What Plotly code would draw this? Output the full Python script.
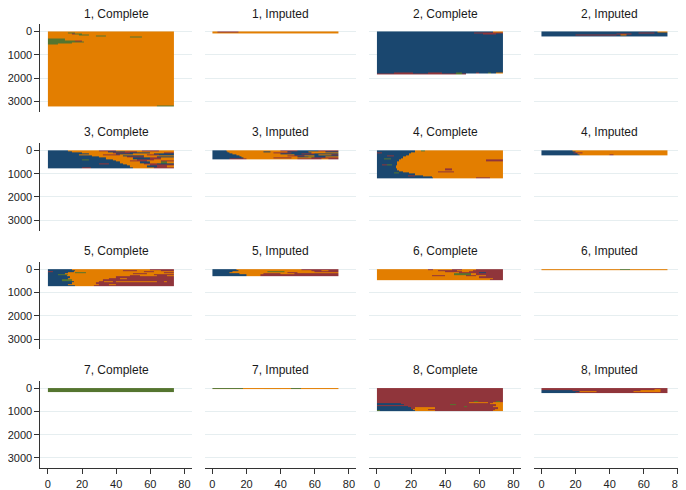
import numpy as np
import plotly.graph_objects as go

# ---------------- data ----------------
N_PERIODS = 74                      # months per sequence
STATE_LETTERS = ["O", "N", "M", "G"]  # state keys used in spell patterns
STATE_COLORS = ["#E37E00", "#1A476F", "#90353B", "#55752F"]
X_TICKS = [0, 20, 40, 60, 80]
Y_TICKS = [0, 1000, 2000, 3000]

PANEL_TITLES = ["1, Complete", "1, Imputed", "2, Complete", "2, Imputed",
                "3, Complete", "3, Imputed", "4, Complete", "4, Imputed",
                "5, Complete", "5, Imputed", "6, Complete", "6, Imputed",
                "7, Complete", "7, Imputed", "8, Complete", "8, Imputed"]

# each entry: (number of sequences, spells "STATEstart ...")  X = not observed
p1_complete = [(40, "O0"), (40, "O0 G12 O16"), (30, "O0 M14 G16 O20"), (40, "O0 G18 O24"),
               (50, "O0 G28 O34"), (50, "O0 G48 O55"), (60, "O0"), (60, "G0 O10"),
               (60, "G0 M16 O20"), (60, "G0 O21"), (40, "G0 O14"), (30, "G0 O6"),
               (2630, "O0"), (40, "O0 G64")]
p1_imputed = [(25, "O0 M3 O15"), (55, "O0")]
p2_complete = [(40, "N0 O68"), (60, "N0 M57"), (20, "N0 M62 N70"), (1620, "N0"),
               (30, "N0 M36 N40 G63 N67 O70"),
               (30, "N0 M10 N21 M30 N38 G46 N50 M58 N60 G65 N67 O70"),
               (40, "M0 G46 M50 X52")]
p2_imputed = [(50, "N0 O68"), (30, "N0 M57 N66"), (40, "N0 M44 N53"),
              (50, "N0 M20 N44 O46 N50"), (30, "N0")]
p3_complete = [(30, "N0 O12 M30 O40 M55 O65"), (40, "N0 O14 N35 M45 O52"),
               (40, "N0 O20 M38 N48 O60 M68"), (50, "N0 O24 N40 O50 N62"),
               (40, "N0 O18 M32 O42 M58 N65"), (60, "N0 O26 N44 O56"),
               (50, "N0 O30 M46 O56 N64"), (60, "N0 O34 N50 M60 O66"),
               (50, "N0 G20 N24 O38 M52 O62"), (60, "N0 O40 M48 O58 M66"),
               (60, "N0 O42 N54 O60 G66 O70"), (60, "N0 M30 N36 O44 M56 N64"),
               (60, "N0 O46 M60"), (60, "N0 O48 N58 M64 O70"), (60, "N0 M20 N25 O50 M62")]
p3_imputed = [(30, "N0 O8 M40 N50 M62"), (40, "N0 O9 N30 O34 N44 O56 N66"),
              (40, "N0 O10 M36 N46 O58"), (50, "N0 O12 N40 M52 N60"),
              (40, "N0 O14 N48 O62 M70"), (50, "N0 O16 M44 O54 N60"),
              (50, "N0 O17 N50 G56 N60 O66"), (50, "N0 O18 M36 O46 M58"),
              (40, "N0 M10 O20 M50 O64 M68")]
p4_complete = [(30, "N0 O22 G26 O28"), (70, "N0 O22"), (40, "M0 N3 O20"), (60, "N0 O19"),
               (60, "N0 M6 N10 O17"), (80, "N0 O15"), (60, "N0 G4 N8 O14"),
               (70, "N0 O13 M64"), (120, "N0 O12"), (60, "N0 M3 G6 N9 O12"),
               (120, "N0 O11"), (70, "N0 O12 M40 O44"), (60, "N0 O13"),
               (50, "N0 O15 M36 O45"), (50, "N0 G10 N13 O19"), (60, "N0 O22"),
               (60, "N0 M18 N22 O27"), (40, "N0 O32"), (40, "N0 O33 M58 O66")]
p4_imputed = [(40, "N0 O18"), (50, "N0 O20"), (30, "N0 M19 O24"), (60, "N0 O21"),
              (40, "N0 O22 M40 O42")]
p5_complete = [(30, "N0 O14 M60"), (40, "N0 O16 M44 O52 M66"), (40, "M0 N3 O15 M56 O62"),
               (50, "N0 O12 G16 O22 M68"), (50, "N0 O10 M50 O58"), (60, "N0 G6 O12 M62"),
               (50, "N0 O11 M48 O54 M64 O70"), (60, "N0 O13 M40"),
               (60, "N0 O12 M36 O42 M46"), (60, "N0 G8 O14 M32"),
               (70, "N0 O15 M30 O33 M38 O40 M64 O68 M70"), (70, "N0 O14 M28"),
               (60, "N0 O12 M30 O36 M40"), (50, "N0 O16 M27")]
p5_imputed = [(30, "N0 O14 M52"), (40, "N0 O15 M58 O64 M68"), (40, "N0 O12 G32 O42 M60"),
              (50, "N0 O10 M44 O50"), (50, "N0 O16 M30 O40 M48"), (70, "N0 O20 M28")]
p6_complete = [(30, "O0 M30 O33 M44 O50 M58"), (40, "O0 M36 O47 M56"), (50, "O0 M40 O50 M54"),
               (40, "O0 M48 N60 M64"), (30, "G0 O22 M46"), (50, "O0 G45 O55 M58"),
               (40, "O0 M32 O40 M52 O58 M64"), (30, "O0 M30 O42 M62"), (60, "O0 M60"),
               (60, "O0 M68"), (30, "O0 M66"), (30, "O0 N10 O16 N52 O60")]
p6_imputed = [(20, "O0 M64"), (20, "O0 G46 O52"), (20, "O0")]
p7_complete = [(150, "G0")]
p7_imputed = [(20, "G0 O18 G46 O52"), (20, "O0 G30 O40")]
p8_complete = [(560, "M0"), (30, "M0 G57 M59 G70 M72"), (40, "M0 O54 M65 O68"),
               (30, "M0 O28 M32 O64"), (40, "N0 M14 O66"), (40, "N0 M16 G43 M46 O70"),
               (30, "M0 O70"), (50, "N0 M18 G51 M53 O68"), (60, "N0 M20 O22 M34 O71"),
               (50, "N0 O21 M30 O69"), (40, "G0 N2 O22 M34 O68"), (20, "N0 O22 M32")]
p8_imputed = [(50, "M0"), (30, "M0 O66 M70"), (40, "N0 M18 O58 M70"),
              (40, "N0 O22 M32 O54 M70"), (30, "N0 O20 M30 G36 M40"), (30, "N0 M20")]

PANEL_DATA = [p1_complete, p1_imputed, p2_complete, p2_imputed,
              p3_complete, p3_imputed, p4_complete, p4_imputed,
              p5_complete, p5_imputed, p6_complete, p6_imputed,
              p7_complete, p7_imputed, p8_complete, p8_imputed]


def expand(bands):
    rows, counts = [], []
    for n, pat in bands:
        row = np.full(N_PERIODS, np.nan)
        toks = pat.split()
        for i, tok in enumerate(toks):
            s, start = tok[0], int(tok[1:])
            end = int(toks[i + 1][1:]) if i + 1 < len(toks) else N_PERIODS
            if s != "X":
                row[start:end] = STATE_LETTERS.index(s)
        rows.append(row)
        counts.append(n)
    edges = np.concatenate([[0], np.cumsum(counts)])
    return np.array(rows), edges


# ---------------- layout geometry (pixels; page body has an 8px margin) ----------------
OFF = 8
W, H = 686 - OFF, 490 - OFF
COL_LEFT = [v - OFF for v in (38.5, 203.5, 368.5, 533.5)]
PLOT_W = 152
ROW_TOP = [v - OFF for v in (24.6, 144.5, 264.3, 384.2)]
PLOT_H = 88

k = len(STATE_COLORS)
colorscale = []
for i, c in enumerate(STATE_COLORS):
    colorscale += [[i / k, c], [(i + 1) / k, c]]

fig = go.Figure()
layout = dict(width=W, height=H, margin=dict(l=0, r=0, t=0, b=0),
              paper_bgcolor="white", plot_bgcolor="white", showlegend=False,
              font=dict(family="Liberation Sans, Arial, sans-serif", color="#222"))
annotations = []
FONT = dict(family="Liberation Sans, Arial, sans-serif", size=11, color="#222")

for idx, (title, bands) in enumerate(zip(PANEL_TITLES, PANEL_DATA)):
    r, c = divmod(idx, 4)
    z, edges = expand(bands)
    sfx = "" if idx == 0 else str(idx + 1)
    fig.add_trace(go.Heatmap(z=z, x=list(range(N_PERIODS + 1)), y=edges,
                             colorscale=colorscale, zmin=-0.5, zmax=k - 0.5,
                             showscale=False, hoverinfo="skip", zsmooth=False,
                             xaxis="x" + sfx, yaxis="y" + sfx))
    x0 = COL_LEFT[c] / W
    x1 = (COL_LEFT[c] + PLOT_W) / W
    y1 = 1 - ROW_TOP[r] / H
    y0 = 1 - (ROW_TOP[r] + PLOT_H) / H
    bottom = r == 3
    left = c == 0
    layout["xaxis" + sfx] = dict(domain=[x0, min(x1, 1)], anchor="y" + sfx,
                                 range=[-4.4, -4.4 + 88.8 * (min(x1, 1) - x0) / (x1 - x0)],
                                 showgrid=False, zeroline=False,
                                 showline=bottom, linecolor="#333", linewidth=1,
                                 ticks="outside" if bottom else "", ticklen=5,
                                 tickcolor="#333", tickvals=X_TICKS,
                                 showticklabels=bottom, tickfont=FONT)
    layout["yaxis" + sfx] = dict(domain=[y0, y1], anchor="x" + sfx, range=[3445, -300],
                                 showgrid=True, gridcolor="#E6EEF0", gridwidth=1,
                                 zeroline=False, showline=left, linecolor="#333",
                                 linewidth=1, ticks="outside" if left else "",
                                 ticklen=5, tickcolor="#333", tickvals=Y_TICKS,
                                 showticklabels=left, tickfont=FONT)
    annotations.append(dict(text=title, x=(x0 + x1) / 2, y=1 - (ROW_TOP[r] - 11) / H,
                            xref="paper", yref="paper", xanchor="center",
                            yanchor="middle", showarrow=False,
                            font=dict(family="Liberation Sans, Arial, sans-serif",
                                      size=12, color="#1a1a1a")))

layout["annotations"] = annotations
fig.update_layout(**layout)
fig.write_html("out.html")
